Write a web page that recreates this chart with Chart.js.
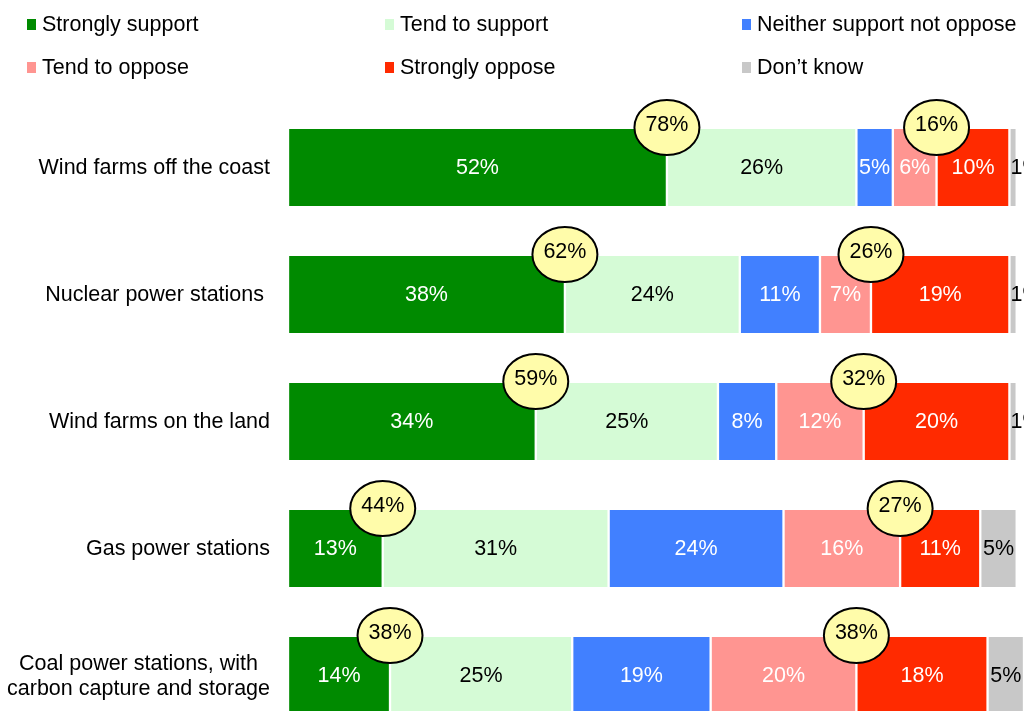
<!DOCTYPE html>
<html>
<head>
<meta charset="utf-8">
<script src="https://cdn.jsdelivr.net/npm/chart.js@4/dist/chart.umd.min.js"></script>
<style>
    html, body { margin: 0; padding: 0; background: #fff; overflow: hidden; }
    #wrap { width: 1024px; height: 740px; }
</style>
</head>
<body>
<div id="wrap"><canvas id="chart" width="1024" height="740"></canvas></div>
<script>
//region data
const categories = [
    'Wind farms off the coast',
    'Nuclear power stations ',
    'Wind farms on the land',
    'Gas power stations',
    ['Coal power stations, with', 'carbon capture and storage']
];
const seriesNames = ['Strongly support', 'Tend to support', 'Neither support not oppose',
    'Tend to oppose', 'Strongly oppose', 'Don\u2019t know'];
const stronglySupport = [52, 38, 34, 13, 14];
const tendSupport = [26, 24, 25, 31, 25];
const neither = [5, 11, 8, 24, 19];
const tendOppose = [6, 7, 12, 16, 20];
const stronglyOppose = [10, 19, 20, 11, 18];
const dontKnow = [1, 1, 1, 5, 5];
// totals printed in the yellow bubbles
const supportTotal = [78, 62, 59, 44, 38];
const opposeTotal = [16, 26, 32, 27, 38];
//endregion

const colors = ['#008a00', '#d5fbd6', '#4180ff', '#ff9591', '#ff2a00', '#c8c8c8'];
const labelColors = ['#fff', '#000', '#fff', '#fff', '#fff', '#000'];
const FONT = '21.5px "Liberation Sans", Arial, sans-serif';

const seriesData = [stronglySupport, tendSupport, neither, tendOppose, stronglyOppose, dontKnow];

// legend laid out in a fixed 3 column grid
const legendPlugin = {
    id: 'gridLegend',
    afterDraw(chart) {
        const ctx = chart.ctx;
        const colX = [27, 385, 742];
        const rowY = [24, 67];
        ctx.save();
        ctx.font = FONT;
        ctx.textBaseline = 'middle';
        ctx.textAlign = 'left';
        chart.data.datasets.forEach((ds, i) => {
            const x = colX[i % 3];
            const y = rowY[Math.floor(i / 3)];
            ctx.fillStyle = ds.backgroundColor;
            ctx.fillRect(x, y - 5, 9, 11);
            ctx.fillStyle = '#000';
            ctx.fillText(ds.label, x + 15, y + 1);
        });
        ctx.restore();
    }
};

// category labels: block right aligned, lines centred inside the block
const categoryPlugin = {
    id: 'categoryLabels',
    afterDraw(chart) {
        const ctx = chart.ctx;
        const yScale = chart.scales.y;
        const right = 270;
        ctx.save();
        ctx.font = FONT;
        ctx.fillStyle = '#000';
        ctx.textBaseline = 'middle';
        ctx.textAlign = 'center';
        chart.data.labels.forEach((label, i) => {
            const lines = Array.isArray(label) ? label : [label];
            const w = Math.max(...lines.map(l => ctx.measureText(l).width));
            const y = yScale.getPixelForValue(i);
            const lh = 25;
            lines.forEach((l, k) => {
                ctx.fillText(l, right - w / 2, y + (k - (lines.length - 1) / 2) * lh + 1);
            });
        });
        ctx.restore();
    }
};

// value labels inside segments, then the bubbles on top
const valuePlugin = {
    id: 'valueLabels',
    afterDatasetsDraw(chart) {
        const ctx = chart.ctx;
        ctx.save();
        ctx.font = FONT;
        ctx.textBaseline = 'middle';
        chart.data.datasets.forEach((ds, d) => {
            const meta = chart.getDatasetMeta(d);
            meta.data.forEach((bar, i) => {
                const txt = ds.data[i] + '%';
                const tw = ctx.measureText(txt).width;
                const segW = bar.x - bar.base;
                ctx.fillStyle = labelColors[d];
                if (tw > segW) {
                    ctx.textAlign = 'left';
                    ctx.fillText(txt, bar.base + 1, bar.y + 1);
                } else {
                    ctx.textAlign = 'center';
                    ctx.fillText(txt, (bar.x + bar.base) / 2, bar.y + 1);
                }
            });
        });

        const bubble = (x, y, txt) => {
            ctx.beginPath();
            ctx.ellipse(x, y, 32.5, 27.5, 0, 0, Math.PI * 2);
            ctx.fillStyle = '#fffcaa';
            ctx.fill();
            ctx.lineWidth = 2;
            ctx.strokeStyle = '#000';
            ctx.stroke();
            ctx.fillStyle = '#000';
            ctx.textAlign = 'center';
            ctx.fillText(txt, x, y - 2);
        };
        const metaSupport = chart.getDatasetMeta(0);
        const metaOppose = chart.getDatasetMeta(4);
        metaSupport.data.forEach((bar, i) => {
            const top = bar.y - bar.height / 2;
            bubble(bar.x, top - 1.5, supportTotal[i] + '%');
            const ob = metaOppose.data[i];
            bubble(ob.base, top - 1.5, opposeTotal[i] + '%');
        });
        ctx.restore();
    }
};

const config = {
    type: 'bar',
    data: {
        labels: categories,
        datasets: seriesData.map((arr, i) => ({
            label: seriesNames[i],
            data: arr,
            backgroundColor: colors[i],
            borderColor: '#fff',
            borderWidth: {top: 0, bottom: 0, left: 1.5, right: 1.5},
            borderSkipped: false,
            barThickness: 77,
            categoryPercentage: 1
        }))
    },
    options: {
        indexAxis: 'y',
        responsive: false,
        animation: false,
        layout: {
            padding: {top: 104, bottom: 1, left: 0, right: 0}
        },
        plugins: {
            legend: {display: false},
            tooltip: {enabled: false}
        },
        scales: {
            x: {
                stacked: true,
                display: false,
                min: 0,
                max: 101
            },
            y: {
                stacked: true,
                grid: {display: false, drawTicks: false},
                border: {display: false},
                ticks: {display: false},
                afterFit: (scale) => {
                    scale.width = 288;
                }
            }
        }
    },
    plugins: [legendPlugin, categoryPlugin, valuePlugin]
};

window.onload = () => {
    const ctx = document.getElementById('chart').getContext('2d');
    window.myChart = new Chart(ctx, config);
};
</script>
</body>
</html>
